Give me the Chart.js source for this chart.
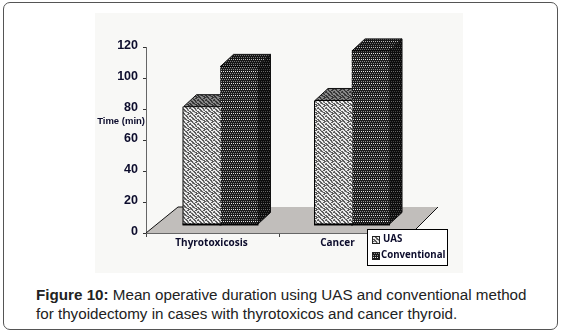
<!DOCTYPE html>
<html>
<head>
<meta charset="utf-8">
<script src="https://cdn.jsdelivr.net/npm/chart.js@4"></script>
<style>
    html, body { margin: 0; padding: 0; background: #fff; }
    body { width: 562px; height: 335px; position: relative; overflow: hidden; font-family: "Liberation Sans", Arial, sans-serif; }
    #card { position: absolute; left: 3px; top: 2px; width: 553px; height: 326px; border: 1.5px solid #555; border-radius: 7px; }
    #panel { position: absolute; left: 95px; top: 13px; width: 368px; height: 260px; background: #f8f8f6; }
    #caption { position: absolute; left: 36px; top: 285px; width: 510px; font-size: 15.2px; line-height: 19px; color: #222; }
</style>
</head>
<body>
<div id="card"></div>
<div id="panel"><canvas id="chart" width="368" height="260"></canvas></div>
<div id="caption"><b>Figure 10:</b> Mean operative duration using UAS and conventional method<br>for thyoidectomy in cases with thyrotoxicos and cancer thyroid.</div>

<script>
var categories = ['Thyrotoxicosis', 'Cancer'];
var uasValues = [76, 80];
var conventionalValues = [102, 112];
var seriesNames = ['UAS', 'Conventional'];
var yTicks = [0, 20, 40, 60, 80, 100, 120];
var yTitle = 'Time (min)';

var DEPTH_X = 13, DEPTH_Y = 12;
var FLOOR_X = 26, FLOOR_Y = 26;
var LABEL_SHIFT = [-1, -8]; // the category labels are not quite centred in the original
var TEXT_COLOR = '#0c0c2c';

// build a repeating fill from rows of characters
function makePattern(rows, colors, overlay) {
    var c = document.createElement('canvas');
    c.width = rows[0].length;
    c.height = rows.length;
    var g = c.getContext('2d');
    rows.forEach(function (row, y) {
        for (var x = 0; x < row.length; x++) {
            g.fillStyle = colors[row[x]];
            g.fillRect(x, y, 1, 1);
        }
    });
    if (overlay) {
        g.fillStyle = overlay;
        g.fillRect(0, 0, c.width, c.height);
    }
    return g.createPattern(c, 'repeat');
}

var weaveRows = [
    'ddwwdmww',
    'wddwmdww',
    'wmddwwdd',
    'dwwmddwd',
    'ddwwwddm',
    'wdmwddww',
    'wwddwwmd',
    'mwwddwdd'
];
var dotRows = [
    'kgkg',
    'kkkk',
    'gkgk',
    'kkkk',
    'wkwk',
    'kkkk'
];
var weaveColors = { d: '#5c5c5c', m: '#a6a6a6', w: '#eeeeee' };
var dotColors = { k: '#1b1b1b', g: '#8c8c8c', w: '#e6e6e6' };

var fills = [
    { front: makePattern(weaveRows, weaveColors), top: makePattern(weaveRows, weaveColors, 'rgba(0,0,0,0.42)'), side: makePattern(weaveRows, weaveColors, 'rgba(0,0,0,0.6)') },
    { front: makePattern(dotRows, dotColors), top: makePattern(dotRows, dotColors, 'rgba(0,0,0,0.2)'), side: makePattern(dotRows, dotColors, 'rgba(0,0,0,0.55)') }
];

function poly(ctx, pts, fill, stroke) {
    ctx.beginPath();
    pts.forEach(function (p, i) { i ? ctx.lineTo(p[0], p[1]) : ctx.moveTo(p[0], p[1]); });
    ctx.closePath();
    if (fill) { ctx.fillStyle = fill; ctx.fill(); }
    if (stroke) { ctx.strokeStyle = stroke; ctx.lineWidth = 1; ctx.stroke(); }
}

var box3d = {
    id: 'box3d',
    beforeDatasetsDraw: function (chart) {
        var ctx = chart.ctx, a = chart.chartArea;
        ctx.save();
        // floor
        poly(ctx, [[a.left, a.bottom], [a.left + FLOOR_X + 6, a.bottom - FLOOR_Y], [a.right + FLOOR_X, a.bottom - FLOOR_Y], [a.right, a.bottom]], '#c1bebb');
        ctx.strokeStyle = '#111';
        ctx.lineWidth = 1;
        ctx.beginPath();
        ctx.moveTo(a.left, a.bottom);
        ctx.lineTo(a.left + FLOOR_X + 6, a.bottom - FLOOR_Y);
        ctx.lineTo(a.left + FLOOR_X + 12, a.bottom - FLOOR_Y);
        ctx.moveTo(a.right, a.bottom);
        ctx.lineTo(a.right + FLOOR_X, a.bottom - FLOOR_Y);
        ctx.stroke();
        // side and top faces, front faces come from the library
        chart.data.datasets.forEach(function (ds, i) {
            chart.getDatasetMeta(i).data.forEach(function (bar) {
                var l = bar.x - bar.width / 2, r = bar.x + bar.width / 2;
                poly(ctx, [[r, bar.y], [r + DEPTH_X, bar.y - DEPTH_Y], [r + DEPTH_X, bar.base - DEPTH_Y], [r, bar.base]], fills[i].side, '#111');
                poly(ctx, [[l, bar.y], [l + DEPTH_X, bar.y - DEPTH_Y], [r + DEPTH_X, bar.y - DEPTH_Y], [r, bar.y]], fills[i].top, '#111');
            });
        });
        ctx.restore();
    },
    afterDatasetsDraw: function (chart) {
        var ctx = chart.ctx;
        ctx.save();
        chart.data.datasets.forEach(function (ds, i) {
            chart.getDatasetMeta(i).data.forEach(function (bar) {
                var l = bar.x - bar.width / 2, r = bar.x + bar.width / 2;
                ctx.fillStyle = '#000';
                ctx.fillRect(l - 1, bar.base - 1, bar.width + 2, 2);
                if (i === 0) ctx.fillRect(l - 1, bar.y, 1, bar.base - bar.y);
                ctx.fillRect(l, bar.y - 0.5, r - l, 1);
            });
        });
        ctx.restore();
    },
    afterDraw: function (chart) {
        var ctx = chart.ctx, a = chart.chartArea, x = chart.scales.x, y = chart.scales.y;
        ctx.save();
        ctx.fillStyle = TEXT_COLOR;

        // category labels
        ctx.font = 'bold 10px "Open Sans"';
        ctx.textAlign = 'center';
        ctx.textBaseline = 'middle';
        chart.data.labels.forEach(function (name, i) {
            ctx.fillText(name, x.getPixelForValue(i) + LABEL_SHIFT[i], a.bottom + 10);
        });

        // horizontal y title
        ctx.font = 'bold 9.5px "Liberation Sans"';
        ctx.textAlign = 'right';
        ctx.fillText(yTitle, a.left - 1, y.getPixelForValue(72));

        // legend
        var bx = 272, by = 216, bw = 80, bh = 36;
        ctx.fillStyle = '#fff';
        ctx.fillRect(bx, by, bw, bh);
        ctx.strokeStyle = '#000';
        ctx.lineWidth = 1;
        ctx.strokeRect(bx + 0.5, by + 0.5, bw, bh);
        chart.data.datasets.forEach(function (ds, i) {
            var sy = by + 7 + i * 16;
            ctx.fillStyle = ds.backgroundColor;
            ctx.fillRect(bx + 5, sy, 7, 7);
            ctx.strokeStyle = '#222';
            ctx.strokeRect(bx + 5.5, sy + 0.5, 7, 7);
            ctx.fillStyle = TEXT_COLOR;
            ctx.font = 'bold 9.7px "Open Sans"';
            ctx.textAlign = 'left';
            ctx.fillText(ds.label, bx + (i ? 14 : 16), sy + 3);
        });
        ctx.restore();
    }
};

new Chart(document.getElementById('chart'), {
    type: 'bar',
    data: {
        labels: categories,
        datasets: [
            { label: seriesNames[0], data: uasValues.map(function (v, i) { return { x: i, y: v }; }), backgroundColor: fills[0].front, borderWidth: 0, xAxisID: 'x1', yAxisID: 'y1', barThickness: 37 },
            { label: seriesNames[1], data: conventionalValues.map(function (v, i) { return { x: i, y: v }; }), backgroundColor: fills[1].front, borderWidth: 0, xAxisID: 'x1', yAxisID: 'y1', barThickness: 37 }
        ]
    },
    plugins: [box3d],
    options: {
        responsive: false,
        animation: false,
        layout: { padding: { left: 0, right: 51, top: 34, bottom: 40 } },
        plugins: { legend: { display: false }, tooltip: { enabled: false } },
        scales: {
            x: {
                type: 'category',
                labels: categories,
                position: 'bottom',
                afterFit: function (s) { s.height = 0; },
                border: { color: '#666' },
                grid: { drawOnChartArea: false, tickLength: 4, color: '#444' },
                ticks: { display: false }
            },
            y: {
                min: 0,
                max: 120,
                afterFit: function (s) { s.width = 51; },
                afterBuildTicks: function (s) { s.ticks = yTicks.map(function (v) { return { value: v }; }); },
                border: { color: '#666' },
                grid: { drawOnChartArea: false, tickLength: 3, color: '#333' },
                ticks: { color: TEXT_COLOR, padding: 5, labelOffset: -1, font: { family: '"Liberation Sans"', size: 12.5, weight: 'bold' } }
            },
            // hidden scales: the bars stand forward on the floor, not on the axis line
            x1: { type: 'linear', display: false, offset: false, min: -0.5665, max: 1.456 },
            y1: { display: false, min: -5.5, max: 114.5 }
        }
    }
});
</script>
</body>
</html>
